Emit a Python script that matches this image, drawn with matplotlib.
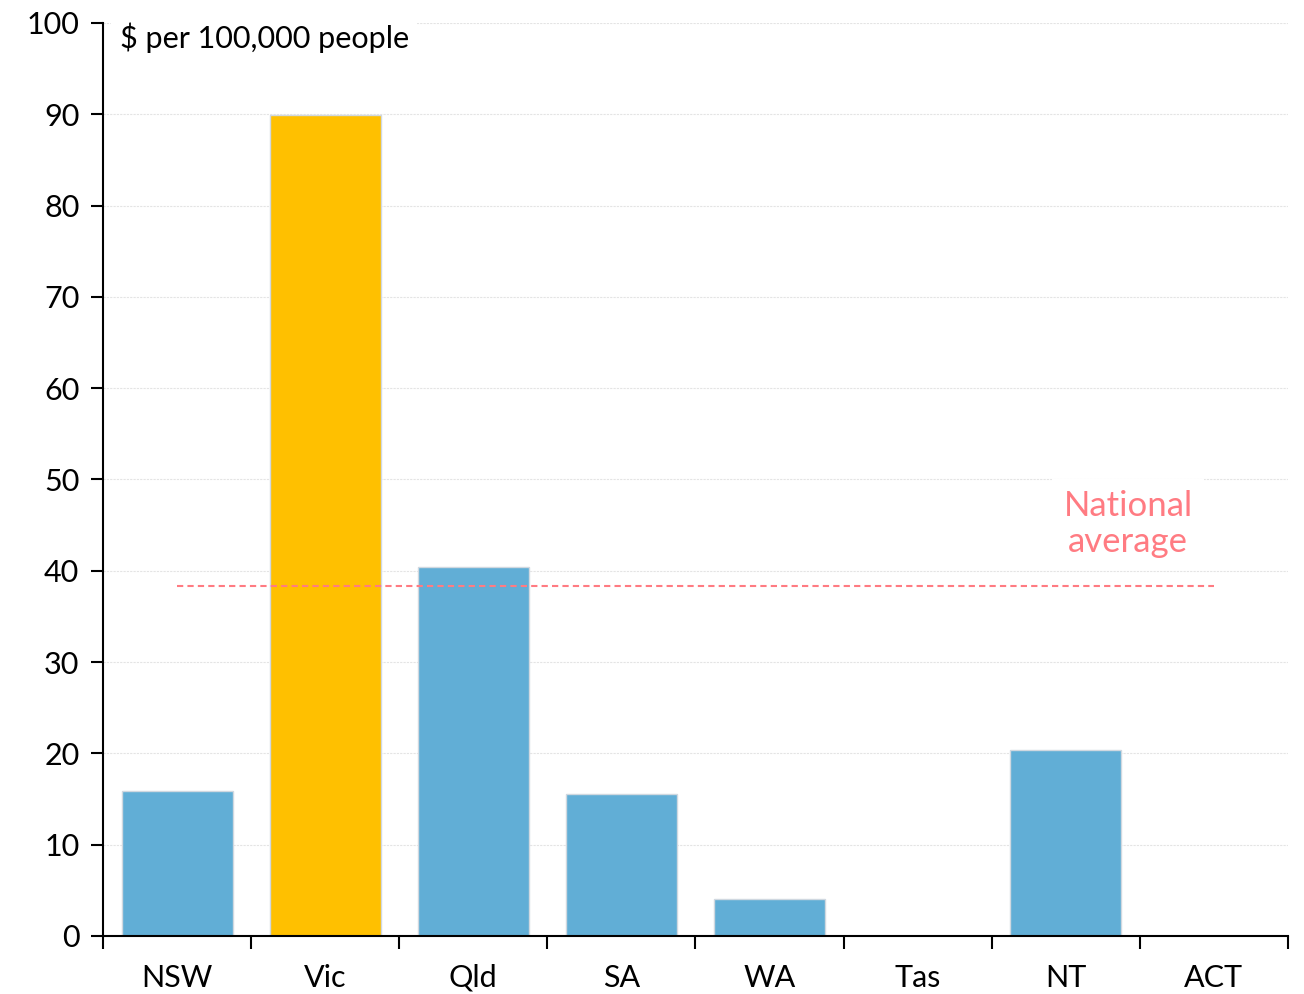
import matplotlib
matplotlib.use("Agg")
import matplotlib.pyplot as plt
import numpy as np

states = ["NSW", "Vic", "Qld", "SA", "WA", "Tas", "NT", "ACT"]
values = [15.9, 89.9, 40.4, 15.5, 4.1, 0.0, 20.4, 0.0]
highlight = "Vic"
national_average = 38.3
y_ticks = [0, 10, 20, 30, 40, 50, 60, 70, 80, 90, 100]

BLUE = "#61AED6"
GOLD = "#FFC000"
RED = "#FF7B82"

plt.rcParams['font.family'] = ['Lato', 'DejaVu Sans']

fig = plt.figure(figsize=(13.04, 9.94), dpi=100)
ax = fig.add_axes([0.079, 0.0584, 0.9087, 0.9185])

x = np.arange(len(states))
colors = [GOLD if s == highlight else BLUE for s in states]
ax.bar(x, values, width=0.75, color=colors, edgecolor="#D0D8E0", linewidth=1, zorder=2)

ax.plot([x[0], x[-1]], [national_average, national_average], color=RED,
        linestyle=(0, (3, 2)), linewidth=1.5, zorder=3)
ax.text(6.42, 45.1, "National\naverage", color=RED, fontsize=25, ha="center", va="center",
        linespacing=1.15, zorder=4,
        bbox=dict(facecolor="white", edgecolor="none", pad=8))

ax.set_xlim(-0.5, len(states) - 0.5)
ax.set_ylim(0, 100)
ax.set_yticks(y_ticks)
ax.set_yticklabels([str(t) for t in y_ticks], fontsize=22)
ax.set_xticks(x)
ax.set_xticklabels(states, fontsize=22)
ax.tick_params(axis="x", length=0, pad=20)
ax.set_xticks(np.arange(-0.5, len(states)), minor=True)
ax.tick_params(axis="x", which="minor", length=9, width=1.5, direction="out")
ax.tick_params(axis="y", length=9, width=1.5, direction="out", pad=8)

ax.grid(axis="y", color="#E4E4E4", linestyle=(0, (2, 1)), linewidth=0.8, zorder=0)
ax.set_axisbelow(True)
for s in ["top", "right"]:
    ax.spines[s].set_visible(False)
ax.spines["left"].set_linewidth(1.5)
ax.spines["bottom"].set_linewidth(1.5)

ax.text(0.014, 1.0, "$ per 100,000 people", transform=ax.transAxes, fontsize=22,
        ha="left", va="top", zorder=5,
        bbox=dict(facecolor="white", edgecolor="none", pad=6))

fig.savefig("out.png", dpi=100)
